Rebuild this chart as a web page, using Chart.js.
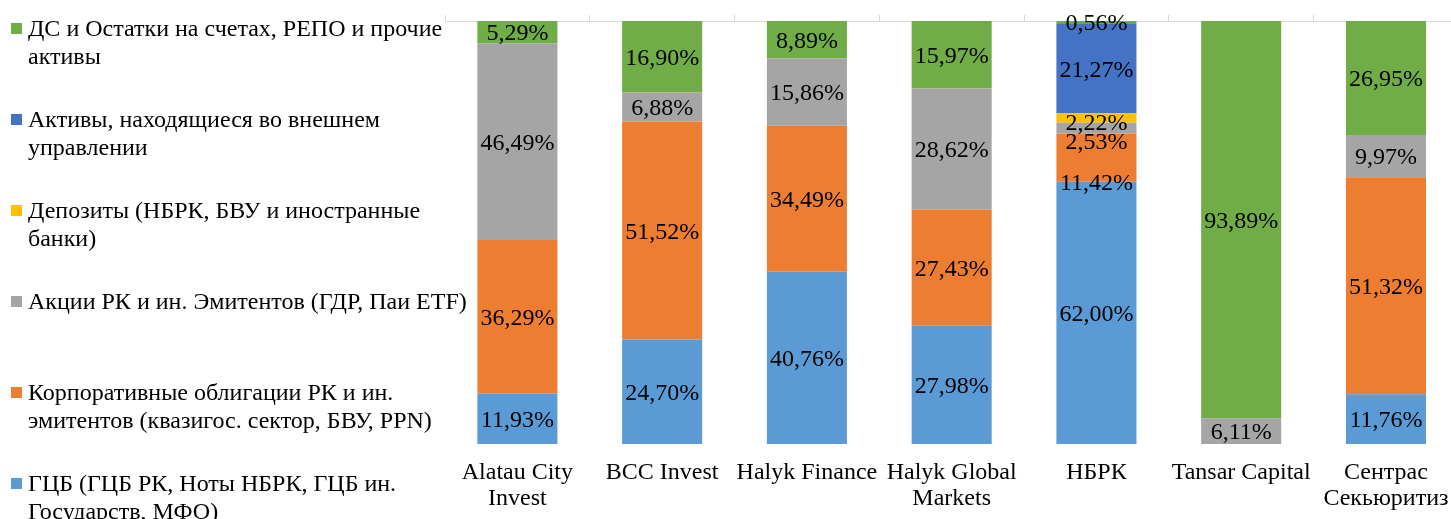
<!DOCTYPE html>
<html>
<head>
<meta charset="utf-8">
<script src="https://cdn.jsdelivr.net/npm/chart.js@4/dist/chart.umd.min.js"></script>
<style>
  html, body { margin: 0; padding: 0; background: #fff; overflow: hidden; width: 1451px; height: 519px; }
  #wrap { position: absolute; left: 0; top: 0; width: 1465px; height: 536px; }
  #legend { position: absolute; left: 0; top: 0; width: 480px; height: 519px; z-index: 2;
    font-family: "Liberation Serif", "Times New Roman", serif; font-size: 24px; color: #000; }
  .item { position: absolute; left: 28px; line-height: 28px; white-space: pre; }
  .box { position: absolute; left: -17px; top: 9px; width: 11px; height: 11px; }
</style>
</head>
<body>
<div id="wrap"><canvas id="c" width="1465" height="536"></canvas></div>
<div id="legend"></div>
<script>
// ---- data ----
const categories = [
  ["Alatau City", "Invest"],
  "BCC Invest",
  "Halyk Finance",
  ["Halyk Global", "Markets"],
  "НБРК",
  "Tansar Capital",
  ["Сентрас", "Секьюритиз"]
];
const seriesNames = [
  "ГЦБ (ГЦБ РК, Ноты НБРК, ГЦБ ин.\nГосударств, МФО)",
  "Корпоративные облигации РК и ин.\nэмитентов (квазигос. сектор, БВУ, PPN)",
  "Акции РК и ин. Эмитентов (ГДР, Паи ETF)",
  "Депозиты (НБРК, БВУ и иностранные\nбанки)",
  "Активы, находящиеся во внешнем\nуправлении",
  "ДС и Остатки на счетах, РЕПО и прочие\nактивы"
];
const gcb       = [11.93, 24.70, 40.76, 27.98, 62.00, 0,     11.76];
const corpBonds = [36.29, 51.52, 34.49, 27.43, 11.42, 0,     51.32];
const shares    = [46.49,  6.88, 15.86, 28.62,  2.53, 6.11,   9.97];
const deposits  = [0,      0,     0,     0,     2.22, 0,      0];
const external  = [0,      0,     0,     0,    21.27, 0,      0];
const cashRepo  = [ 5.29, 16.90,  8.89, 15.97,  0.56, 93.89, 26.95];

const seriesValues = [gcb, corpBonds, shares, deposits, external, cashRepo];
const seriesColors = ["#5b9bd5", "#ed7d31", "#a5a5a5", "#ffc000", "#4472c4", "#70ad47"];

// label nudges (px) for crowded segments: [datasetIndex][categoryIndex]
const labelNudge = { 1: { 4: 24 }, 2: { 4: 13 }, 3: { 4: 4 } };

const FONT = '"Liberation Serif", "Times New Roman", serif';

const labelPlugin = {
  id: 'segLabels',
  afterDatasetsDraw(chart) {
    const ctx = chart.ctx;
    ctx.save();
    ctx.font = '24px ' + FONT;
    ctx.fillStyle = '#000';
    ctx.textAlign = 'center';
    ctx.textBaseline = 'middle';
    chart.data.datasets.forEach((ds, di) => {
      const meta = chart.getDatasetMeta(di);
      meta.data.forEach((bar, i) => {
        const v = ds.data[i];
        if (!v) return;
        const nudge = (labelNudge[di] && labelNudge[di][i]) || 0;
        const y = (bar.y + bar.base) / 2 + 2 + nudge;
        ctx.fillText(v.toFixed(2).replace('.', ',') + '%', bar.x, y);
      });
    });
    ctx.restore();
  }
};

const chart = new Chart(document.getElementById('c'), {
  type: 'bar',
  data: {
    labels: categories,
    datasets: seriesNames.map((name, k) => ({
      label: name,
      data: seriesValues[k],
      backgroundColor: seriesColors[k],
      borderWidth: 0,
      categoryPercentage: 1,
      barPercentage: 0.553
    }))
  },
  options: {
    responsive: false,
    animation: false,
    layout: { padding: { left: 445, right: 2, top: 15, bottom: 8 } },
    plugins: { legend: { display: false }, tooltip: { enabled: false } },
    scales: {
      x: {
        stacked: true,
        position: 'bottom',
        grid: { display: false, drawTicks: false, tickLength: 0 },
        border: { display: false },
        ticks: {
          color: '#000',
          font: { family: FONT, size: 24, lineHeight: 1.083 },
          padding: 16,
          autoSkip: false,
          maxRotation: 0,
          minRotation: 0
        }
      },
      x2: {
        type: 'category',
        labels: categories,
        position: 'top',
        offset: true,
        grid: { display: true, drawOnChartArea: false, tickLength: 6, color: '#d9d9d9', offset: true },
        border: { display: true, color: '#d9d9d9' },
        ticks: { display: false }
      },
      y: {
        stacked: true,
        display: false,
        min: 0,
        max: 100
      }
    }
  },
  plugins: [labelPlugin]
});

// HTML legend built from chart datasets (top-to-bottom = last dataset first)
const legend = document.getElementById('legend');
const order = chart.data.datasets.map((d, i) => i).reverse();
order.forEach((di, row) => {
  const ds = chart.data.datasets[di];
  const item = document.createElement('div');
  item.className = 'item';
  item.style.top = (14 + 91 * row) + 'px';
  const box = document.createElement('span');
  box.className = 'box';
  box.style.background = ds.backgroundColor;
  item.appendChild(box);
  item.appendChild(document.createTextNode(ds.label));
  legend.appendChild(item);
});
</script>
</body>
</html>
